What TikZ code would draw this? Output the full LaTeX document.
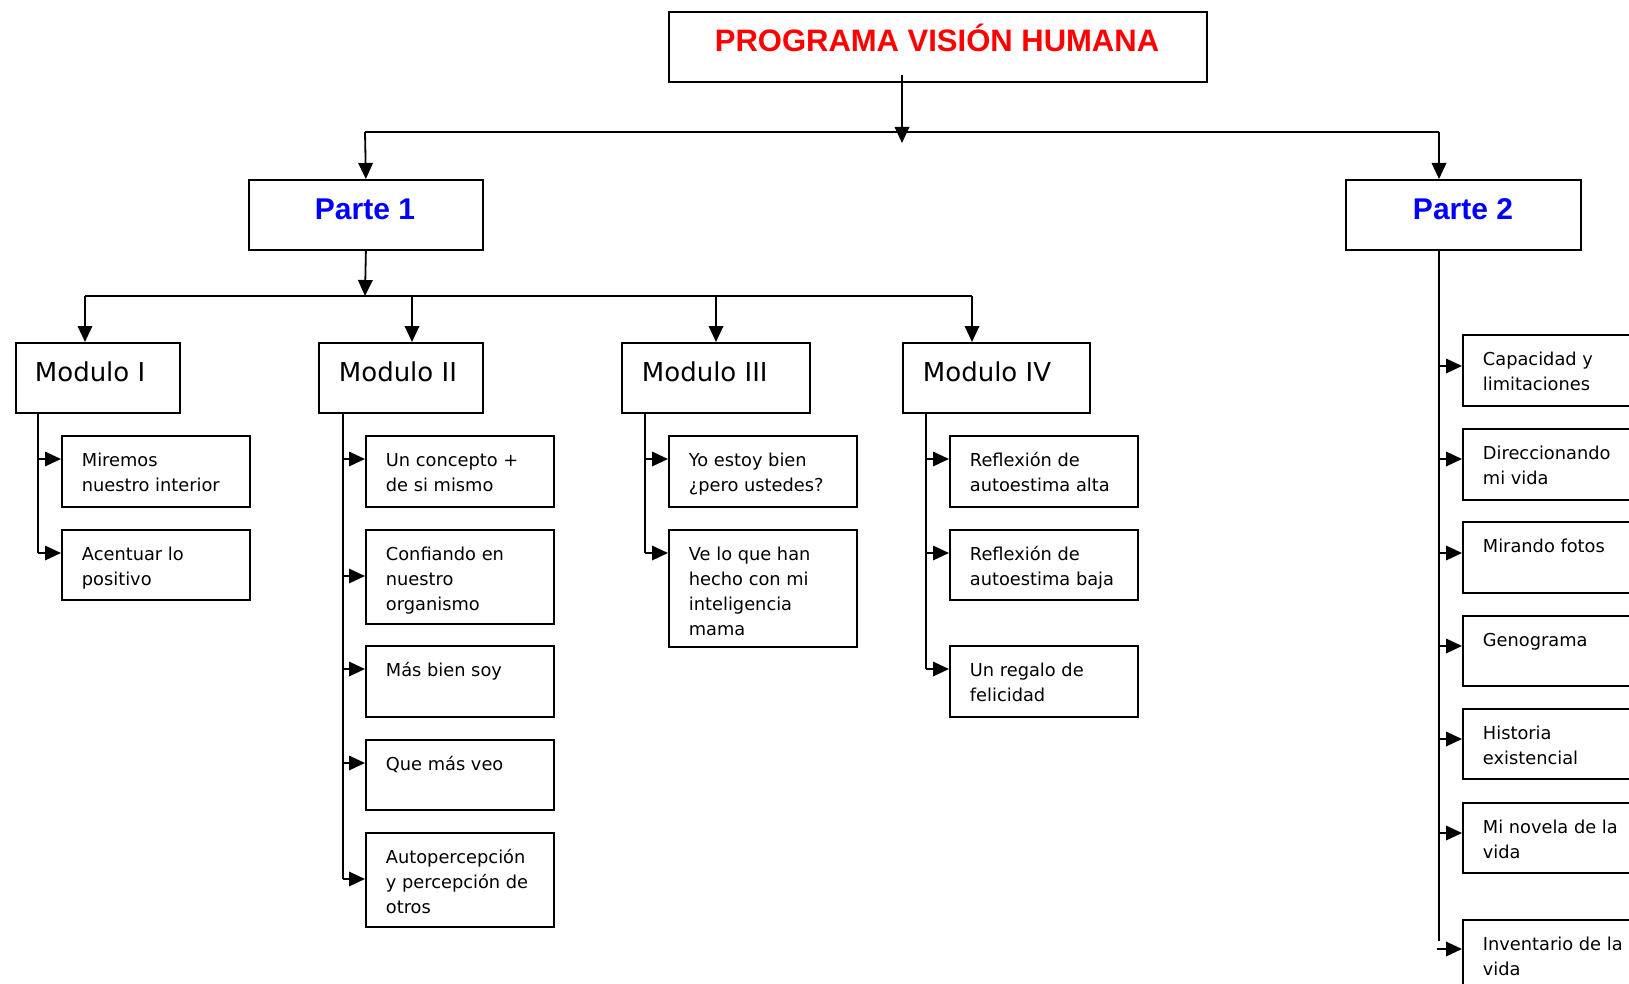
\documentclass[tikz,border=0pt]{standalone}
\usepackage{fontspec}
\setmainfont{DejaVu Sans}
\newfontfamily\arialfont{Liberation Sans}
\usetikzlibrary{arrows.meta,calc}
\newcommand{\kid}[7]{%
  \node[boxst, minimum width=#4pt, minimum height=#5pt] (#1) at (#2,#3) {};
  \node[txt] (#1t) at ($(#1.north west)+(20,31)$) {\parbox[t]{230pt}{\raggedright #7}};
  \coordinate (#1a) at (#2,#6);
}
\begin{document}
\begin{tikzpicture}[x=1pt,y=-1pt,line width=1.8pt,
  arr/.style={-{Triangle[length=16pt,width=14.5pt]}},
  boxst/.style={draw, line width=1.8pt, inner sep=0pt, anchor=north west, fill=white},
  txt/.style={inner sep=0pt, anchor=base west, font=\fontsize{17.8}{25}\selectfont},
  modtxt/.style={inner sep=0pt, anchor=base west, font=\fontsize{26}{30}\selectfont},
  ttl/.style={inner sep=0pt, anchor=base, text=red, font=\arialfont\bfseries\fontsize{31}{36}\selectfont},
  prt/.style={inner sep=0pt, anchor=base, text=blue, font=\arialfont\bfseries\fontsize{30}{36}\selectfont}]
\clip (0,0) rectangle (1629,984);
\fill[white] (0,0) rectangle (1629,984);

% title
\node[boxst, minimum width=538pt, minimum height=70pt] (title) at (668,11) {};
\node[ttl] (titlet) at (937,52) {PROGRAMA VISIÓN HUMANA};
\coordinate (ts) at (902,75);
\coordinate (te) at (902,143);
\coordinate (h1) at (365,132);
\coordinate (h2) at (1439,132);

% partes
\node[boxst, minimum width=234pt, minimum height=70pt] (p1) at (248,179) {};
\node[prt] (p1t) at (365,220) {Parte 1};
\node[boxst, minimum width=235pt, minimum height=70pt] (p2) at (1345,179) {};
\node[prt] (p2t) at (1463,220) {Parte 2};

\draw (h1) -- (h2);
\draw[arr] (ts) -- (te);
\draw[arr] (h1) -- (p1.north);
\draw[arr] (h2) -- (h2 |- p2.north);

% modules
\node[boxst, minimum width=164pt, minimum height=70pt] (m1) at (15,342) {};
\node[boxst, minimum width=164pt, minimum height=70pt] (m2) at (318,342) {};
\node[boxst, minimum width=188pt, minimum height=70pt] (m3) at (621,342) {};
\node[boxst, minimum width=187pt, minimum height=70pt] (m4) at (902,342) {};
\node[modtxt] (m1t) at (34,381) {Modulo I};
\node[modtxt] (m2t) at (338,381) {Modulo II};
\node[modtxt] (m3t) at (641,381) {Modulo III};
\node[modtxt] (m4t) at (922,381) {Modulo IV};

\coordinate (g0) at (365,296);
\coordinate (g1) at (85,296);
\coordinate (g2) at (412,296);
\coordinate (g3) at (716,296);
\coordinate (g4) at (972,296);
\draw[arr] (p1.south) -- (g0);
\draw (g1) -- (g4);
\draw[arr] (g1) -- (g1 |- m1.north);
\draw[arr] (g2) -- (g2 |- m2.north);
\draw[arr] (g3) -- (g3 |- m3.north);
\draw[arr] (g4) -- (g4 |- m4.north);

% Modulo I
\kid{c11}{61}{435}{188}{71}{459}{Miremos\\nuestro interior}
\kid{c12}{61}{529}{188}{70}{553}{Acentuar lo\\positivo}
\coordinate (t1) at (38,412);
\draw (t1) -- (t1 |- c12a);
\draw[arr] (t1 |- c11a) -- (c11a);
\draw[arr] (t1 |- c12a) -- (c12a);

% Modulo II
\kid{c21}{365}{435}{188}{71}{459}{Un concepto +\\de si mismo}
\kid{c22}{365}{529}{188}{94}{576}{Confiando en\\nuestro\\organismo}
\kid{c23}{365}{645}{188}{71}{669}{Más bien soy}
\kid{c24}{365}{739}{188}{70}{763}{Que más veo}
\kid{c25}{365}{832}{188}{94}{879}{Autopercepción\\y percepción de\\otros}
\coordinate (t2) at (343,412);
\draw (t2) -- (t2 |- c25a);
\foreach \c in {c21,c22,c23,c24,c25} \draw[arr] (t2 |- \c a) -- (\c a);

% Modulo III
\kid{c31}{668}{435}{188}{71}{459}{Yo estoy bien\\¿pero ustedes?}
\kid{c32}{668}{529}{188}{117}{553}{Ve lo que han\\hecho con mi\\inteligencia\\mama}
\coordinate (t3) at (645,412);
\draw (t3) -- (t3 |- c32a);
\foreach \c in {c31,c32} \draw[arr] (t3 |- \c a) -- (\c a);

% Modulo IV
\kid{c41}{949}{435}{188}{71}{459}{Reflexión de\\autoestima alta}
\kid{c42}{949}{529}{188}{70}{553}{Reflexión de\\autoestima baja}
\kid{c43}{949}{645}{188}{71}{669}{Un regalo de\\felicidad}
\coordinate (t4) at (926,412);
\draw (t4) -- (t4 |- c43a);
\foreach \c in {c41,c42,c43} \draw[arr] (t4 |- \c a) -- (\c a);

% Parte 2
\kid{d1}{1462}{334}{200}{71}{366}{Capacidad y\\limitaciones}
\kid{d2}{1462}{428}{200}{71}{459}{Direccionando\\mi vida}
\kid{d3}{1462}{521}{200}{71}{553}{Mirando fotos}
\kid{d4}{1462}{615}{200}{70}{646}{Genograma}
\kid{d5}{1462}{708}{200}{70}{739}{Historia\\existencial}
\kid{d6}{1462}{802}{200}{70}{833}{Mi novela de la\\vida}
\kid{d7}{1462}{919}{200}{100}{949}{Inventario de la\\vida}
\coordinate (t5) at (1439,249);
\coordinate (t5e) at (1439,941);
\draw (t5) -- (t5e);
\foreach \c in {d1,d2,d3,d4,d5,d6} \draw[arr] (t5 |- \c a) -- (\c a);
\coordinate (d7s) at (1437,949);
\draw[arr] (d7s) -- (d7a);
\end{tikzpicture}
\end{document}
